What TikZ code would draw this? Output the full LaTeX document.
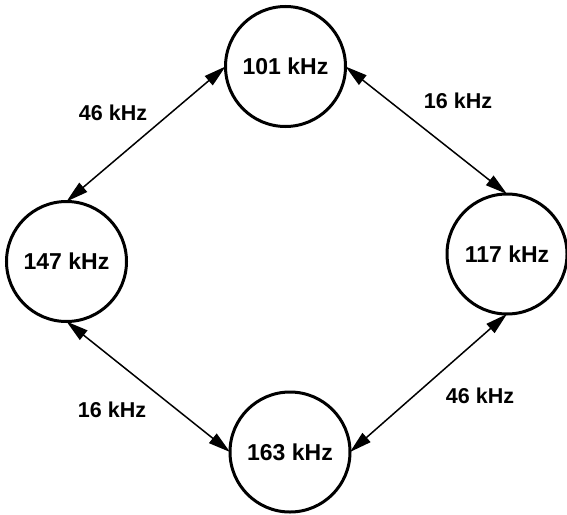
\documentclass[tikz,border=0pt]{standalone}
\usepackage{fontspec}
\setmainfont{Liberation Sans}
\usetikzlibrary{arrows.meta}
\begin{document}
\begin{tikzpicture}[x=1pt,y=-1pt,
  freq/.style={circle,draw,line width=3pt,minimum size=120pt,inner sep=0pt,outer sep=0pt,
    font=\fontsize{23}{26}\selectfont\bfseries},
  link/.style={line width=1.5pt,{Triangle[length=22pt,width=12pt]}-{Triangle[length=22pt,width=12pt]}},
  lbl/.style={font=\fontsize{21.5}{24}\selectfont\bfseries,inner sep=0pt}]
\useasboundingbox (0,0) rectangle (567,514);
\node[freq] (t) at (285.5,66.5) {101 kHz};
\node[freq] (l) at (66.5,261.5) {147 kHz};
\node[freq] (r) at (507,254) {117 kHz};
\node[freq] (b) at (290,452) {163 kHz};
\draw[link] (t.west) -- (l.north);
\draw[link] (t.east) -- (r.north);
\draw[link] (l.south) -- (b.west);
\draw[link] (r.south) -- (b.east);
\node[lbl] (l1) at (113,113) {46 kHz};
\node[lbl] (l2) at (458,101) {16 kHz};
\node[lbl] (l3) at (112,410) {16 kHz};
\node[lbl] (l4) at (480,396) {46 kHz};
\end{tikzpicture}
\end{document}
